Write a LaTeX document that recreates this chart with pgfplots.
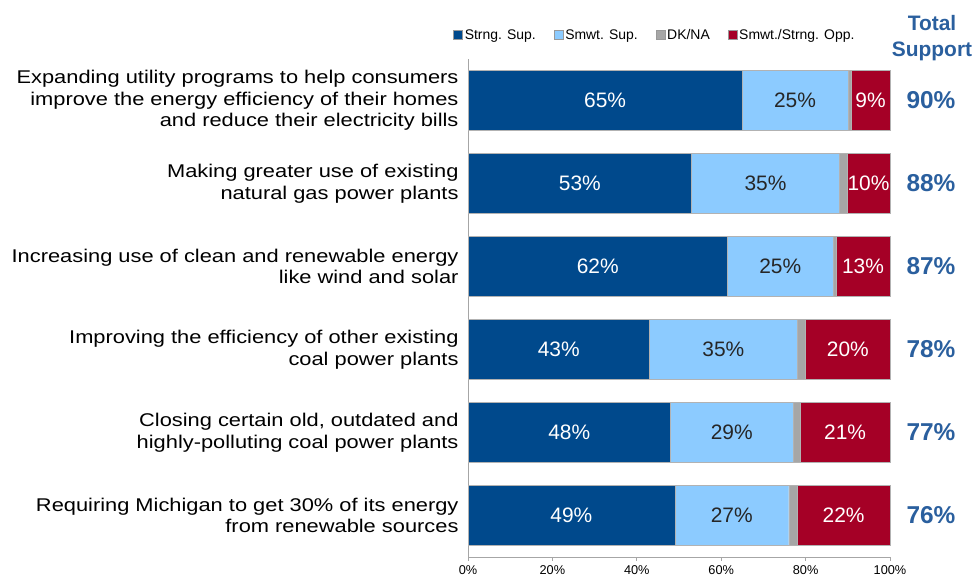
\documentclass[border=0pt]{standalone}
\usepackage{pgfplots}
\pgfplotsset{compat=1.18}
\usepackage{fontspec}
\setmainfont{Liberation Sans}
\newfontfamily\catfont[FakeStretch=1.185]{Liberation Sans}
\definecolor{strong}{HTML}{00498C}
\definecolor{smwt}{HTML}{8CCBFF}
\definecolor{dkna}{HTML}{A6A6A6}
\definecolor{opp}{HTML}{A50026}
\definecolor{tot}{HTML}{2A5F9E}
\begin{document}
\begin{tikzpicture}
\path[use as bounding box] (0,0) rectangle (977bp,580bp);
\begin{axis}[
  at={(468bp,23bp)}, anchor=south west,
  scale only axis, width=422bp, height=498bp,
  xbar stacked, bar width=0.72,
  xmin=0, xmax=100, ymin=-0.5, ymax=5.5, y dir=reverse,
  clip=false,
  axis x line*=bottom, axis y line*=left,
  axis line style={draw=gray!70, line width=0.8pt},
  xtick={0,20,...,100},
  xticklabel={\pgfmathprintnumber{\tick}\%},
  xtick style={draw=gray!70, line width=0.8pt},
  tick align=outside, major tick length=4bp,
  xticklabel style={font=\fontsize{12.8}{14}\selectfont, yshift=-1bp},
  /pgf/number format/assume math mode=true,
  ytick={0,...,5},
  ytick style={draw=none},
  yticklabels={
    {Expanding utility programs to help consumers\\improve the energy efficiency of their homes\\and reduce their electricity bills},
    {Making greater use of existing\\natural gas power plants},
    {Increasing use of clean and renewable energy\\like wind and solar},
    {Improving the efficiency of other existing\\coal power plants},
    {Closing certain old, outdated and\\highly-polluting coal power plants},
    {Requiring Michigan to get 30\% of its energy\\from renewable sources}},
  yticklabel style={align=right, font=\catfont\fontsize{18.5}{21.8}\selectfont, xshift=-2bp},
  point meta=explicit,
  nodes near coords={\pgfmathprintnumber{\pgfplotspointmeta}\%},
  every node near coord/.append style={font=\fontsize{21}{24}\selectfont},
  legend style={at={(0.443,1.048)}, anchor=center, draw=none, fill=none,
    legend columns=4, font=\fontsize{14}{16}\selectfont,
    /tikz/every even column/.append style={column sep=16bp},
    legend cell align=left},
  legend image code/.code={\draw[#1, draw=gray!80] (-2bp,-4.5bp) rectangle (7bp,4.5bp);},
]
\addplot[fill=strong, draw=gray!60, every node near coord/.append style={text=white}] coordinates {
  (65,0) [65] (53,1) [53] (61.5,2) [62] (43,3) [43] (48,4) [48] (49,5) [49]};
\addplot[fill=smwt, draw=gray!60, every node near coord/.append style={text=black!85}] coordinates {
  (25,0) [25] (35,1) [35] (25,2) [25] (35,3) [35] (29,4) [29] (27,5) [27]};
\addplot[fill=dkna, draw=gray!60, nodes near coords={}] coordinates {
  (0.8,0) [1] (1.8,1) [2] (0.7,2) [1] (2,3) [2] (1.7,4) [2] (2,5) [2]};
\addplot[fill=opp, draw=gray!60, every node near coord/.append style={text=white}] coordinates {
  (9.2,0) [9] (10.2,1) [10] (12.8,2) [13] (20,3) [20] (21.3,4) [21] (22,5) [22]};
\legend{Strng. Sup., Smwt. Sup., DK/NA, Smwt./Strng. Opp.}
\node[text=tot, font=\bfseries\fontsize{24.5}{28}\selectfont] at (axis cs:109.7,0) {90\%};
\node[text=tot, font=\bfseries\fontsize{24.5}{28}\selectfont] at (axis cs:109.7,1) {88\%};
\node[text=tot, font=\bfseries\fontsize{24.5}{28}\selectfont] at (axis cs:109.7,2) {87\%};
\node[text=tot, font=\bfseries\fontsize{24.5}{28}\selectfont] at (axis cs:109.7,3) {78\%};
\node[text=tot, font=\bfseries\fontsize{24.5}{28}\selectfont] at (axis cs:109.7,4) {77\%};
\node[text=tot, font=\bfseries\fontsize{24.5}{28}\selectfont] at (axis cs:109.7,5) {76\%};
\end{axis}
\node[text=tot, font=\bfseries\fontsize{21}{26}\selectfont, align=center] at (932bp,542bp) {Total\\Support};
\end{tikzpicture}
\end{document}
